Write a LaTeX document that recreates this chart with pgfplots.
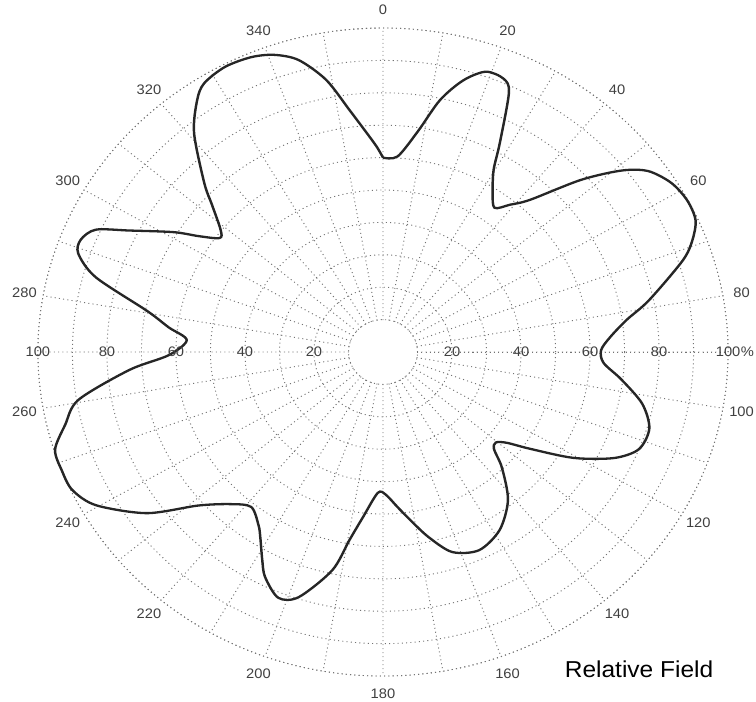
\documentclass[border=0pt]{standalone}
\usepackage{fontspec}
\setmainfont{Liberation Sans}
\usepackage{graphicx}
\usepackage{pgfplots}
\pgfplotsset{compat=1.18}
\usepgfplotslibrary{polar}

\definecolor{gridgray}{gray}{0.45}
\definecolor{labgray}{gray}{0.25}

\begin{document}
\scalebox{1.065}[1]{%
\begin{tikzpicture}[lab/.style={labgray, font=\fontsize{6.9}{7}\selectfont, inner sep=0pt}]
\begin{polaraxis}[
    scale only axis,
    width=324pt, height=324pt,
    ymin=0, ymax=100,
    xtick={0,10,...,350},
    ytick={10,20,...,100},
    xticklabel=\mbox{}, yticklabel=\mbox{},
    major tick length=0pt,
    grid=major,
    major grid style={gridgray, line width=0.45pt, dash pattern=on 0.5pt off 1.5pt},
    axis line style={gridgray, line width=0.45pt, dash pattern=on 0.5pt off 1.5pt},
    clip=false,
]
\coordinate (c) at (axis cs:0,0);
\fill[white] (axis cs:0,0) circle[radius=15.4pt];

% compass angles (0 = top, clockwise), turned into plot angles by the filter
\addplot[black!85, line width=1.15pt, smooth, tension=0.5, x filter/.expression={90-x}] coordinates {
(0,60) (4,60.5) (8.5,69) (12,79.5) (15.5,87) (19,91.5) (22.5,91.3) (24.5,88)
(27.7,72.8) (29.7,64.7) (32.9,58.5) (36,55) (39,58.5) (42.2,63.4) (47.2,78.2)
(51,89) (54,95) (58,98.5) (62,99.8) (65.8,99.3) (69,96) (72,91.3) (78.3,78.7)
(82,71.3) (86,66) (89.5,63.2) (93,64) (97,69.6) (102,76.8) (107,80.7) (112,80)
(116,74.6) (120.6,64.2) (125,52.1) (128,45.5) (130.5,43) (133,44) (136,49.6)
(141.6,58.3) (148.4,64.5) (155.5,67.2) (162,64.9) (167,58.6) (171.3,52.5)
(175,48) (179,44) (182,43.5) (186.5,51.3) (189.5,58.8) (192.3,68.9) (197.9,79.5)
(201.8,81.7) (206.2,77.4) (208.6,73.1) (211.9,67.3) (214,64.5) (218.6,61.2)
(223.2,64.4) (228.5,71.5) (234,84.6) (240.4,95.7) (244.7,99.6) (248.5,100)
(252.4,99.7) (256.3,94.8) (260.5,89.5) (265.7,73.7) (269.1,62.1) (273.7,57)
(277,62.6) (280.5,69.5) (285.5,86.4) (289,93.4) (291.6,94.2) (294.4,91.4)
(297,82.6) (301.4,71) (303.8,64.3) (306.6,59) (308.7,60.3) (312.5,67.2)
(315.2,73.5) (321,87) (325.3,94.6) (328,97.8) (332.5,99.2) (337.2,98.7)
(341,97) (344.8,93.4) (348.9,85.6) (352.6,75.3) (356,67.8) (358.4,63.3) (360,60)
};

% angle labels (plot angle = 90 - compass angle)
\node[lab] at (axis cs:90,105.5) {0};
\node[lab] at (axis cs:70,105.5) {20};
\node[lab] at (axis cs:50,105.5) {40};
\node[lab] at (axis cs:30,105.5) {60};
\node[lab] at (axis cs:10,105.5) {80};
\node[lab] at (axis cs:-10,105.5) {100};
\node[lab] at (axis cs:-30,105.5) {120};
\node[lab] at (axis cs:-50,105.5) {140};
\node[lab] at (axis cs:-70,105.5) {160};
\node[lab] at (axis cs:-90,105.5) {180};
\node[lab] at (axis cs:-110,105.5) {200};
\node[lab] at (axis cs:-130,105.5) {220};
\node[lab] at (axis cs:-150,105.5) {240};
\node[lab] at (axis cs:-170,105.5) {260};
\node[lab] at (axis cs:170,105.5) {280};
\node[lab] at (axis cs:150,105.5) {300};
\node[lab] at (axis cs:130,105.5) {320};
\node[lab] at (axis cs:110,105.5) {340};
% radial labels
\pgfplotsinvokeforeach{20,40,...,100}{
  \node[lab] at (axis cs:0,#1) {#1};
  \node[lab] at (axis cs:180,#1) {#1};
}
\node[lab] at (axis cs:0,105.6) {\%};
\end{polaraxis}
\node[anchor=base, font=\fontsize{11.5}{13}\selectfont, inner sep=0pt] at ([shift={(120.2pt,-162.5pt)}]c) {Relative Field};
\pgfresetboundingbox
\path[use as bounding box] ([shift={(-179.8pt,-174.5pt)}]c) rectangle ([shift={(175.1pt,176pt)}]c);
\end{tikzpicture}%
}
\end{document}
